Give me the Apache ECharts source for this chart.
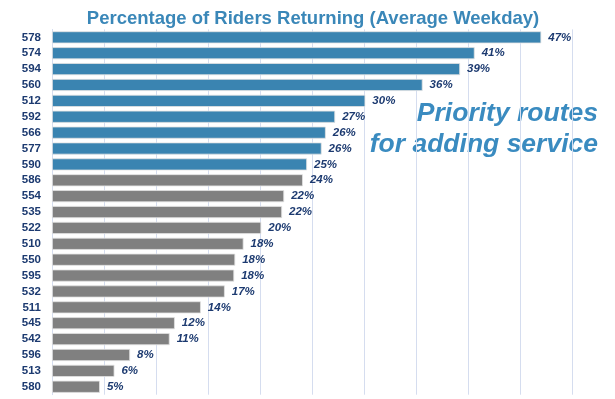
<!DOCTYPE html>
<html>
<head>
<meta charset="utf-8">
<script src="https://cdn.jsdelivr.net/npm/echarts@6/dist/echarts.min.js"></script>
<style>
  html, body { margin: 0; padding: 0; background: #fff; }
  #chart { width: 615px; height: 399px; }
</style>
</head>
<body>
<div id="chart"></div>
<script>
const routes = ["578", "574", "594", "560", "512", "592", "566", "577", "590", "586", "554", "535",
  "522", "510", "550", "595", "532", "511", "545", "542", "596", "513", "580"];
const returning = [47.0, 40.6, 39.2, 35.6, 30.1, 27.2, 26.3, 25.9, 24.5, 24.1, 22.3, 22.1,
  20.1, 18.4, 17.6, 17.5, 16.6, 14.3, 11.8, 11.3, 7.5, 6.0, 4.6];
// first routes in the list are the priority ones (blue)
const priorityCount = 9;
const titleText = "Percentage of Riders Returning (Average Weekday)";
const noteLines = ["Priority routes", "for adding service"];

const blue = "#3a84b1";
const grey = "#808080";

const noteStyle = {
  fontFamily: "Liberation Sans",
  fontSize: 26.5,
  fontWeight: "bold",
  fontStyle: "italic",
  fill: "#3a8bc0"
};

const chart = echarts.init(document.getElementById("chart"));
chart.setOption({
  animation: false,
  title: {
    text: titleText,
    left: 308,
    textAlign: "center",
    top: 4,
    textStyle: {
      fontFamily: "Liberation Sans",
      fontSize: 18.5,
      fontWeight: "bold",
      color: "#3a87b8"
    }
  },
  grid: { left: 52, right: 42.5, top: 29.4, height: 365.3, containLabel: false },
  xAxis: {
    type: "value",
    min: 0,
    max: 50,
    interval: 5,
    axisLabel: { show: false },
    axisTick: { show: false },
    axisLine: { show: false },
    splitLine: { lineStyle: { color: "#d5ddef", width: 1 } }
  },
  yAxis: {
    type: "category",
    data: routes,
    inverse: true,
    axisTick: { show: false },
    axisLine: { lineStyle: { color: "#d5ddef" } },
    axisLabel: {
      margin: 11,
      fontFamily: "Liberation Sans",
      fontSize: 11.5,
      fontWeight: "bold",
      color: "#1c3a70"
    }
  },
  series: [{
    type: "bar",
    data: returning,
    barCategoryGap: "24%",
    itemStyle: {
      color: (p) => (p.dataIndex < priorityCount ? blue : grey),
      borderColor: "#e2e2e2",
      borderWidth: 0.8
    },
    label: {
      show: true,
      position: "right",
      distance: 7,
      formatter: (p) => Math.round(p.value) + "%",
      fontFamily: "Liberation Sans",
      fontSize: 11.5,
      fontWeight: "bold",
      fontStyle: "italic",
      color: "#1c3a70"
    }
  }],
  graphic: noteLines.map((line, i) => ({
    type: "text",
    right: 17,
    top: 100 + i * 31,
    style: Object.assign({ text: line }, noteStyle)
  }))
});
</script>
</body>
</html>
